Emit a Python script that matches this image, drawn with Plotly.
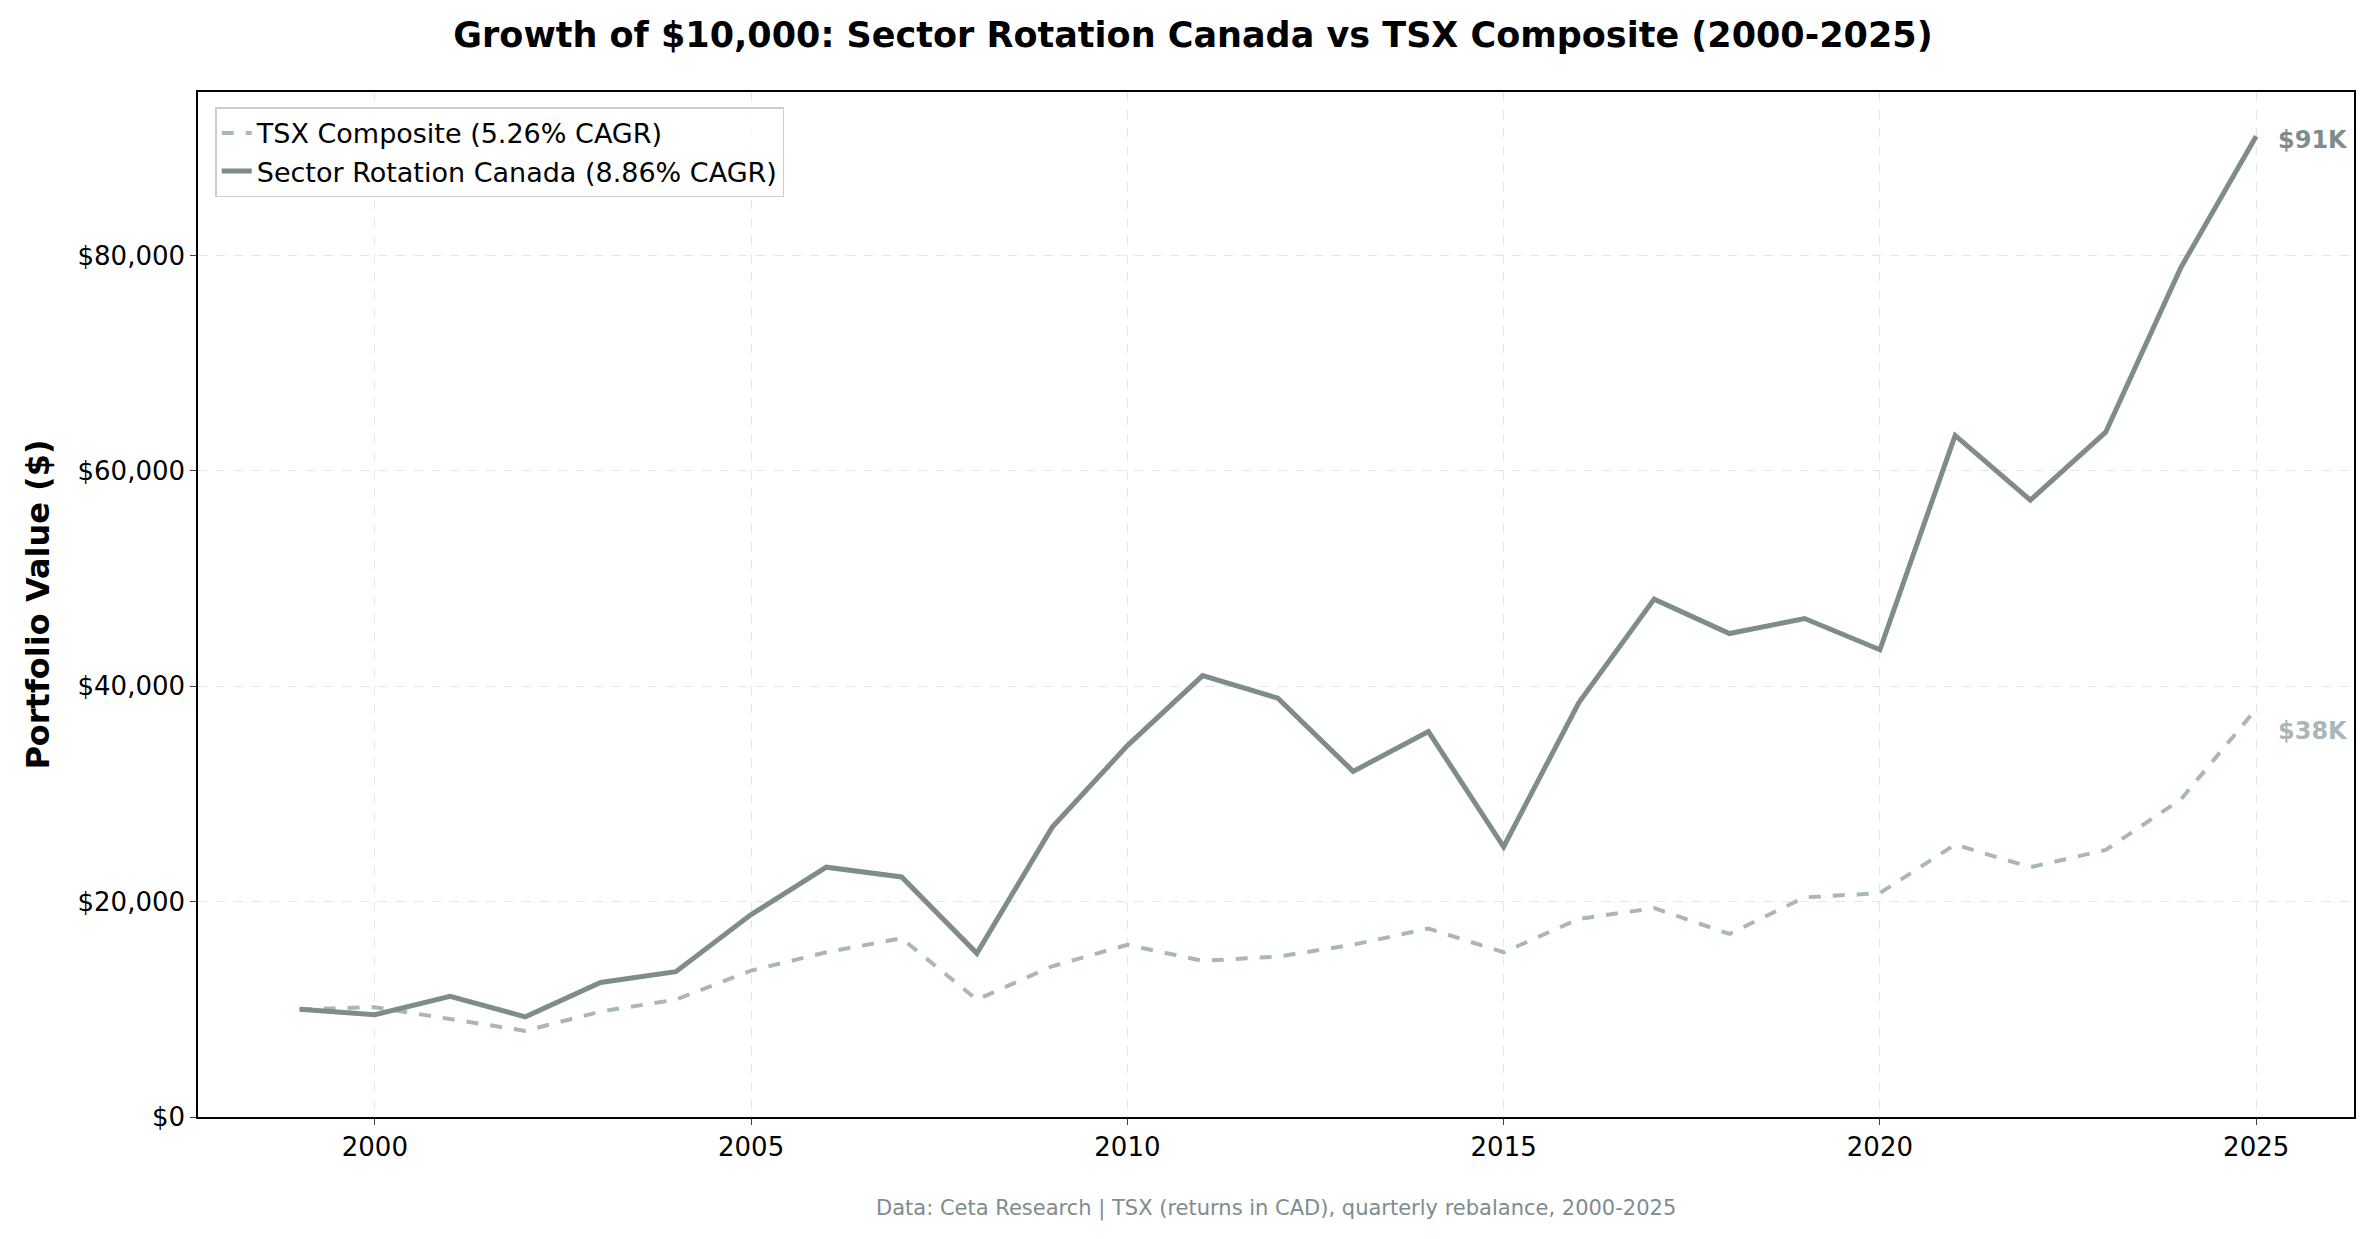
import plotly.graph_objects as go

years = list(range(1999, 2026))
sector = [10.0, 9.5, 11.2, 9.3, 12.5, 13.5, 18.8, 23.2, 22.3, 15.2, 26.9, 34.5, 41.0, 38.9, 32.1, 35.8,
          25.1, 38.5, 48.1, 44.9, 46.3, 43.4, 63.3, 57.3, 63.6, 78.9, 91.1]
tsx = [10.0, 10.2, 9.1, 8.0, 9.8, 10.9, 13.6, 15.3, 16.6, 10.9, 14.0, 16.0, 14.5, 14.9, 16.0, 17.5,
       15.3, 18.4, 19.4, 17.0, 20.4, 20.8, 25.3, 23.2, 24.8, 29.5, 37.9]
sector = [v * 1000 for v in sector]
tsx = [v * 1000 for v in tsx]
tsx_name = "TSX Composite (5.26% CAGR)"
sector_name = "Sector Rotation Canada (8.86% CAGR)"
c_sec = "#7f8c8d"
c_tsx = "#aab7b8"
font = "DejaVu Sans"

fig = go.Figure()
fig.add_trace(go.Scatter(x=years, y=tsx, name=tsx_name, mode="lines",
                         line=dict(color=c_tsx, width=4, dash="dash")))
fig.add_trace(go.Scatter(x=years, y=sector, name=sector_name, mode="lines",
                         line=dict(color=c_sec, width=5)))
fig.add_annotation(x=years[-1], y=sector[-1], text=f"<b>${sector[-1]/1000:.0f}K</b>", showarrow=False,
                   xanchor="left", xshift=20, yshift=-4, font=dict(size=24, color=c_sec, family=font))
fig.add_annotation(x=years[-1], y=tsx[-1], text=f"<b>${tsx[-1]/1000:.0f}K</b>", showarrow=False,
                   xanchor="left", xshift=20, yshift=-22, font=dict(size=24, color=c_tsx, family=font))
fig.add_annotation(x=0.5, y=-0.075, xref="paper", yref="paper", yanchor="top", showarrow=False,
                   text="Data: Ceta Research | TSX (returns in CAD), quarterly rebalance, 2000-2025",
                   font=dict(size=21, color="#7f8c8d", family=font))

fig.update_layout(
    width=2370, height=1239, paper_bgcolor="white", plot_bgcolor="white",
    margin=dict(l=190, r=24, t=84, b=130),
    font=dict(family=font, size=26, color="black"),
    title=dict(text="<b>Growth of $10,000: Sector Rotation Canada vs TSX Composite (2000-2025)</b>",
               x=0.5, xanchor="center", y=0.988, yanchor="top", font=dict(size=35)),
    legend=dict(x=0.008, y=0.985, xanchor="left", yanchor="top", bgcolor="rgba(255,255,255,0.8)",
                bordercolor="#cccccc", borderwidth=1.5, font=dict(size=27)),
    xaxis=dict(range=[1997.65, 2026.3], tickvals=[2000, 2005, 2010, 2015, 2020, 2025],
               showgrid=True, gridcolor="#e5e5e5", griddash="dash", showline=True, mirror=True,
               linecolor="black", linewidth=1.5, ticks="outside", ticklen=6, zeroline=False),
    yaxis=dict(range=[0, 95200], tickvals=[0, 20000, 40000, 60000, 80000],
               ticktext=["$0", "$20,000", "$40,000", "$60,000", "$80,000"],
               title=dict(text="<b>Portfolio Value ($)</b>", font=dict(size=32), standoff=18),
               showgrid=True, gridcolor="#e5e5e5", griddash="dash", showline=True, mirror=True,
               linecolor="black", linewidth=1.5, ticks="outside", ticklen=6, zeroline=False),
)
fig.write_html("out.html")
